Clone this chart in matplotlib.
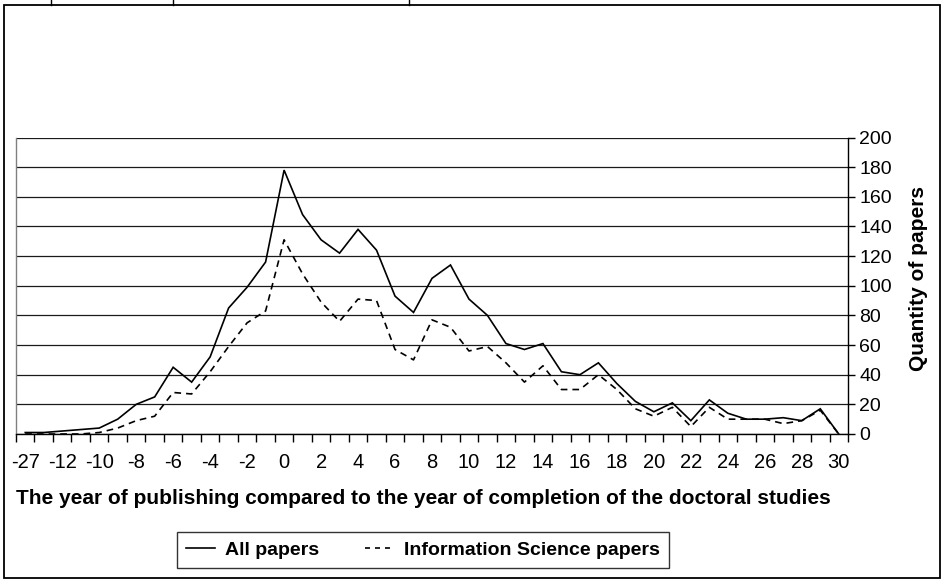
import matplotlib
matplotlib.use("Agg")
import matplotlib.pyplot as plt
from matplotlib.lines import Line2D
from matplotlib.patches import Rectangle

plt.rcParams['font.family'] = ['Liberation Sans', 'DejaVu Sans']

# ---- data ----
years = ["-27", "-13", "-12", "-11", "-10", "-9", "-8", "-7", "-6", "-5", "-4", "-3", "-2", "-1",
         "0", "1", "2", "3", "4", "5", "6", "7", "8", "9", "10", "11", "12", "13", "14", "15",
         "16", "17", "18", "19", "20", "21", "22", "23", "24", "25", "26", "27", "28", "29", "30"]
all_papers = [1, 1, 2, 3, 4, 10, 20, 25, 45, 35, 52, 85, 99, 116,
              178, 148, 131, 122, 138, 124, 93, 82, 105, 114, 91, 80, 61, 57, 61, 42,
              40, 48, 34, 22, 15, 21, 9, 23, 14, 10, 10, 11, 9, 17, 0]
info_sci_papers = [0, 0, 0, 0, 1, 4, 9, 12, 28, 27, 42, 59, 75, 83,
                   131, 108, 89, 76, 91, 90, 57, 50, 77, 72, 56, 59, 48, 35, 46, 30,
                   30, 40, 30, 17, 12, 18, 5, 18, 10, 10, 10, 7, 9, 16, 0]
y_ticks = list(range(0, 201, 20))

W, H = 943, 581
fig = plt.figure(figsize=(W / 100, H / 100), dpi=100)

# plot area in pixel coords
px_left, px_right, px_top, px_bottom = 16, 848, 137.5, 434
ax = fig.add_axes([px_left / W, 1 - px_bottom / H, (px_right - px_left) / W, (px_bottom - px_top) / H])

x = list(range(len(years)))
ax.plot(x, all_papers, color='black', lw=1.2, solid_joinstyle='miter')
ax.plot(x, info_sci_papers, color='black', lw=1.2, dashes=(4, 3))

ax.set_xlim(-0.5, len(years) - 0.5)
ax.set_ylim(0, 200)

# y axis on right
ax.yaxis.tick_right()
ax.set_yticks(y_ticks)
ax.set_yticklabels([str(v) for v in y_ticks], fontsize=14)
ax.tick_params(axis='y', direction='out', length=5, width=1, pad=3, color='black')
ax.grid(axis='y', color='#1a1a1a', lw=0.9)
ax.set_axisbelow(True)

# x ticks: marks between categories, labels on every other category
ax.set_xticks([i - 0.5 for i in range(len(years) + 1)], minor=True)
ax.set_xticks(x[::2])
ax.set_xticklabels(years[::2], fontsize=14.5)
ax.tick_params(axis='x', which='major', length=0, pad=14)
ax.tick_params(axis='x', which='minor', direction='out', length=6, width=1, color='black')

ax.spines['top'].set_visible(False)
ax.spines['left'].set_color('#808080')
ax.spines['right'].set_color('black')
ax.spines['bottom'].set_color('black')
for s in ['left', 'right', 'bottom']:
    ax.spines[s].set_linewidth(1)

fig.text(919 / W, 1 - 278 / H, "Quantity of papers", rotation=90, ha='center', va='center',
         fontsize=15, fontweight='bold')

fig.text(423 / W, 1 - 499 / H, "The year of publishing compared to the year of completion of the doctoral studies",
         ha='center', va='center', fontsize=15, fontweight='bold')

# legend
handles = [Line2D([0], [0], color='black', lw=1.2),
           Line2D([0], [0], color='black', lw=1.2, dashes=(3, 3))]
leg = fig.legend(handles, ["All papers", "Information Science papers"], loc='center',
                 bbox_to_anchor=(423 / W, 1 - 550 / H), ncol=2, frameon=True, fancybox=False,
                 edgecolor='black', prop={'weight': 'bold', 'size': 14}, handlelength=1.5,
                 columnspacing=2.4, borderpad=0.45, handletextpad=0.5)
leg.get_frame().set_linewidth(1)

# outer chart border
fig.patches.append(Rectangle((4 / W, 1 - 578 / H), (940 - 4) / W, (578 - 5) / H,
                             transform=fig.transFigure, fill=False, edgecolor='black', lw=1.3))
# small marks from content above (cropped)
for xm in [51, 173, 409]:
    fig.lines.append(Line2D([xm / W, xm / W], [1 - 5 / H, 1.0], transform=fig.transFigure,
                            color='black', lw=1))

fig.savefig("out.png", dpi=100)
